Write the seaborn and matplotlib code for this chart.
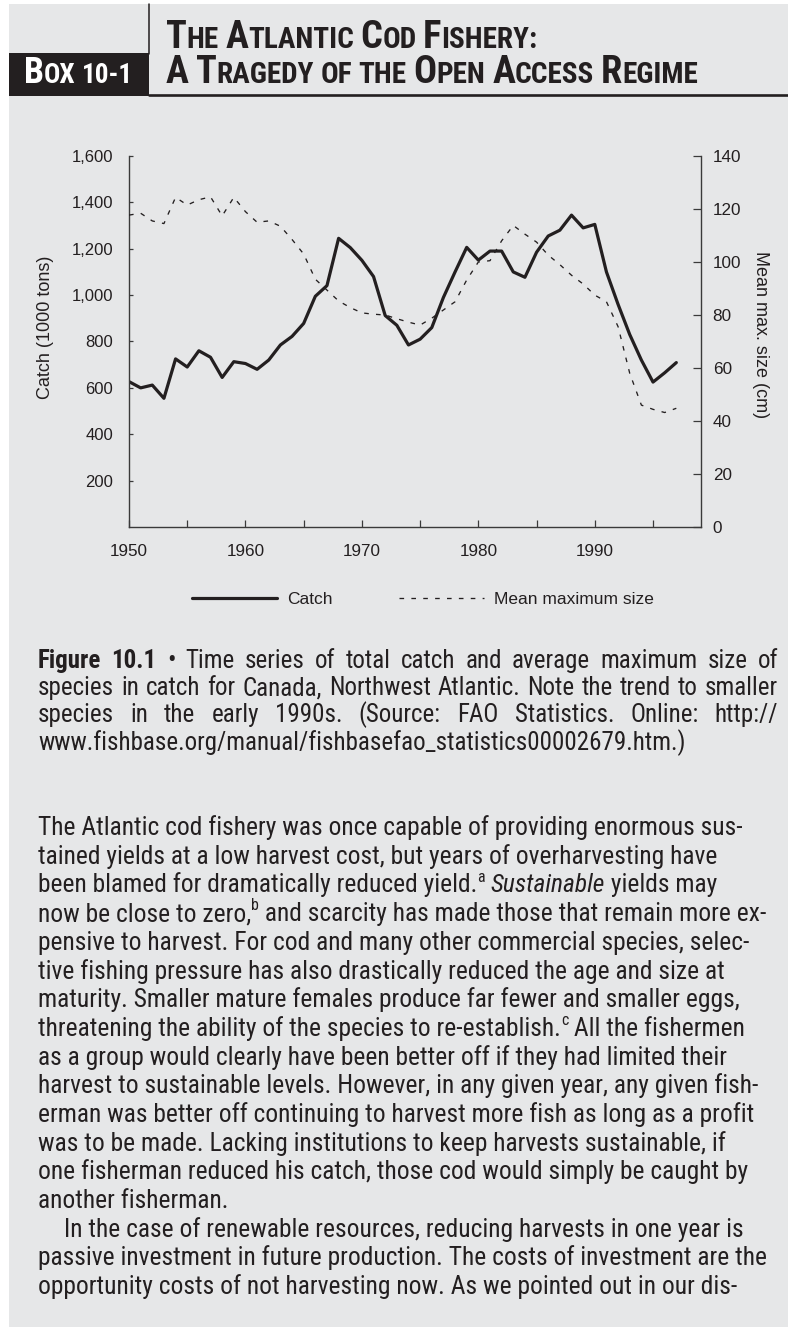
import re
import matplotlib.pyplot as plt
import seaborn as sns
from matplotlib import font_manager
from matplotlib.patches import Rectangle
from matplotlib.lines import Line2D

W, H = 788, 1332
INK = "#231f20"
AXIS = "#3a3a3a"
PAGE = "#e6e7e8"

# ── data ───────────────────────────────────────────────────────────────
years = list(range(1950, 1998))
catch = [627, 600, 612, 555, 725, 690, 760, 732, 645, 713,
         705, 680, 720, 785, 822, 878, 995, 1041, 1245, 1205,
         1150, 1080, 912, 870, 785, 810, 860, 990, 1100, 1206,
         1151, 1190, 1190, 1100, 1077, 1185, 1255, 1280, 1345, 1290,
         1305, 1100, 960, 830, 720, 625, 665, 709]
max_size = [117.7, 118.4, 115.5, 114.5, 124.4, 121.5, 123.5, 124.6, 117.4, 124.4,
            119.0, 115.0, 115.5, 113.5, 108.5, 103.0, 93.5, 89.4, 85.3, 82.8,
            80.8, 80.3, 80.0, 78.6, 77.3, 76.2, 78.8, 81.9, 85.0, 93.2,
            100.0, 100.5, 108.0, 113.8, 110.5, 107.5, 102.6, 99.0, 95.0, 91.7,
            87.5, 85.0, 75.6, 58.0, 46.0, 44.4, 43.2, 44.8]

xtick_years = [1950, 1955, 1960, 1965, 1970, 1975, 1980, 1985, 1990, 1995]
xtick_labels = ["1950", "", "1960", "", "1970", "", "1980", "", "1990", ""]
catch_ticks = [200, 400, 600, 800, 1000, 1200, 1400, 1600]
catch_labels = ["200", "400", "600", "800", "1,000", "1,200", "1,400", "1,600"]
size_ticks = [0, 20, 40, 60, 80, 100, 120, 140]
size_labels = ["0", "20", "40", "60", "80", "100", "120", "140"]
legend_labels = ["Catch", "Mean maximum size"]

box_label = "Box 10-1"
title_lines = ["The Atlantic Cod Fishery:", "A Tragedy of the Open Access Regime"]

caption_lines = [
    "Figure 10.1 \u2022 Time series of total catch and average maximum size of",
    "species in catch for Canada, Northwest Atlantic. Note the trend to smaller",
    "species in the early 1990s. (Source: FAO Statistics. Online: http://",
    "www.fishbase.org/manual/fishbasefao_statistics00002679.htm.)",
]

# ^x marks a footnote letter, *...* marks italics
body_lines = [
    "The Atlantic cod fishery was once capable of providing enormous sus-",
    "tained yields at a low harvest cost, but years of overharvesting have",
    "been blamed for dramatically reduced yield.^a *Sustainable* yields may",
    "now be close to zero,^b and scarcity has made those that remain more ex-",
    "pensive to harvest. For cod and many other commercial species, selec-",
    "tive fishing pressure has also drastically reduced the age and size at",
    "maturity. Smaller mature females produce far fewer and smaller eggs,",
    "threatening the ability of the species to re-establish.^c All the fishermen",
    "as a group would clearly have been better off if they had limited their",
    "harvest to sustainable levels. However, in any given year, any given fish-",
    "erman was better off continuing to harvest more fish as long as a profit",
    "was to be made. Lacking institutions to keep harvests sustainable, if",
    "one fisherman reduced his catch, those cod would simply be caught by",
    "another fisherman.",
    "In the case of renewable resources, reducing harvests in one year is",
    "passive investment in future production. The costs of investment are the",
    "opportunity costs of not harvesting now. As we pointed out in our dis-",
]


def fx(x):
    return x / W


def fy(y):
    return 1 - y / H


available = {f.name for f in font_manager.fontManager.ttflist}


def pick(*names):
    for n in names:
        if n in available:
            return n
    return "DejaVu Sans"


chart_font = pick("Liberation Sans", "Arial", "DejaVu Sans")
book_font = pick("Liberation Sans Narrow", "Noto Sans Condensed", "Roboto Condensed",
                 "Noto Sans", "Roboto")

sns.set_style("ticks")
plt.rcParams["font.family"] = [chart_font, "DejaVu Sans"]

fig = plt.figure(figsize=(W / 100, H / 100), dpi=100)
fig.patch.set_facecolor("white")
R = fig.canvas.get_renderer()

fig.add_artist(Rectangle((fx(9), fy(1327)), (W - 9) / W, (1327 - 4) / H,
                         transform=fig.transFigure, facecolor=PAGE,
                         edgecolor="none", zorder=-10))


def text_w(s, **kw):
    t = fig.text(0, 0, s, **kw)
    w = t.get_window_extent(R).width
    t.remove()
    return w


def adv(s, **kw):
    # advance width of s (bars keep leading/trailing spacing honest)
    return text_w("|" + s + "|", **kw) - text_w("||", **kw)


# ── header with small caps ────────────────────────────────────────────
def caps_runs(word):
    runs = []
    for ch in word:
        big = ch.isupper()
        if runs and runs[-1][1] == big:
            runs[-1][0] += ch.upper()
        else:
            runs.append([ch.upper(), big])
    return runs


def caps_layout(s, big, small):
    kw = dict(family=book_font, weight="bold")
    items, x = [], 0.0
    space = adv(" ", size=small, **kw)
    for i, word in enumerate(s.split(" ")):
        if i:
            x += space
        for run, is_big in caps_runs(word):
            sz = big if is_big else small
            items.append((run, sz, x))
            x += adv(run, size=sz, **kw)
    return items, x


def caps_draw(items, scale, x0, base, color):
    for run, sz, off in items:
        fig.text(fx(x0 + off * scale), fy(base), run, size=sz * scale,
                 family=book_font, weight="bold", color=color,
                 ha="left", va="baseline")


fig.add_artist(Rectangle((fx(9), fy(96)), 140 / W, 43 / H,
                         transform=fig.transFigure, facecolor=INK, edgecolor="none"))
fig.add_artist(Line2D([fx(149), fx(149)], [fy(4), fy(54)],
                      transform=fig.transFigure, color=INK, lw=1.1))
fig.add_artist(Line2D([fx(149), 1], [fy(94.5), fy(94.5)],
                      transform=fig.transFigure, color=INK, lw=1.9))

items2, w2 = caps_layout(title_lines[1], 19, 14.5)
k = 532 / w2
items1, _ = caps_layout(title_lines[0], 19, 14.5)
caps_draw(items1, k, 166, 48, INK)
caps_draw(items2, k, 166, 83, INK)
items_b, wb = caps_layout(box_label, 19, 14.5)
caps_draw(items_b, 109 / wb, 24, 83, "white")

# ── chart ─────────────────────────────────────────────────────────────
ax = fig.add_axes([fx(129), fy(527), 572 / W, 371 / H])
ax.set_facecolor("none")
sns.lineplot(x=years, y=catch, ax=ax, color=INK, linewidth=2.3, legend=False)
ax2 = ax.twinx()
sns.lineplot(x=years, y=max_size, ax=ax2, color=INK, linewidth=0.95,
             linestyle=(0, (3.5, 5.5)), legend=False)

ax.set_xlim(1950, 1999.12)
ax.set_ylim(0, 1600)
ax2.set_ylim(0, 140)

ax.set_xticks(xtick_years, xtick_labels)
ax.set_yticks(catch_ticks, catch_labels)
ax2.set_yticks(size_ticks, size_labels)
ax.set_xlabel("")
ax.set_ylabel("")
ax2.set_ylabel("")

ax.tick_params(axis="x", direction="in", length=4.8, width=0.9, pad=12.5,
               labelsize=12.3, color=AXIS, labelcolor=INK)
ax.tick_params(axis="y", direction="in", length=3.2, width=0.9, pad=11.5,
               labelsize=12, color=AXIS, labelcolor=INK)
ax2.tick_params(axis="y", direction="in", length=5.5, width=0.9, pad=8.4,
                labelsize=12.3, color=AXIS, labelcolor=INK)

for s in ["top", "right"]:
    ax.spines[s].set_visible(False)
for s in ["top", "left", "bottom"]:
    ax2.spines[s].set_visible(False)
for a in (ax, ax2):
    for sp in a.spines.values():
        sp.set_color(AXIS)
        sp.set_linewidth(1.0)

fig.text(fx(45.5), fy(327), "Catch (1000 tons)", rotation=90, size=13,
         color=INK, ha="center", va="center")
fig.text(fx(760), fy(334.5), "Mean max. size (cm)", rotation=270, size=13,
         color=INK, ha="center", va="center")

fig.legend([ax.lines[0], ax2.lines[0]], legend_labels, loc="center",
           bbox_to_anchor=(fx(423), fy(599)), ncol=2, frameon=False,
           handlelength=4.9, handletextpad=0.6, columnspacing=3.8,
           fontsize=12.5, labelcolor=INK)

# ── caption (justified) ───────────────────────────────────────────────
cap_kw = dict(family=book_font, color=INK)
ref = caption_lines[1].split(" ")
nat = sum(adv(w, size=14, **cap_kw) for w in ref) + adv(" ", size=14, **cap_kw) * (len(ref) - 1)
cap_size = 14 * 730 / nat

for i, line in enumerate(caption_lines):
    words = line.split(" ")
    bold_n = 2 if i == 0 else 0
    widths = [adv(w, size=cap_size, weight="bold" if j < bold_n else "normal", **cap_kw)
              for j, w in enumerate(words)]
    if i < 3:
        gap = (778 - 38 - sum(widths)) / (len(words) - 1)
    else:
        gap = adv(" ", size=cap_size, **cap_kw)
    x = 38
    base = 668 + 27.2 * i
    for j, (w, wd) in enumerate(zip(words, widths)):
        fig.text(fx(x), fy(base), w, size=cap_size,
                 weight="bold" if j < bold_n else "normal",
                 ha="left", va="baseline", **cap_kw)
        x += wd + gap


# ── body text (size chosen so the widest line ends near the margin) ───
def pieces(line, size):
    out = []
    for tok in re.split(r"(\^\w|\*[^*]+\*)", line):
        if not tok:
            continue
        if tok.startswith("^"):
            out.append((tok[1:], dict(size=size * 0.62), 0.42 * size * 100 / 72))
        elif tok.startswith("*"):
            out.append((tok[1:-1], dict(size=size, style="italic"), 0.0))
        else:
            out.append((tok, dict(size=size), 0.0))
    return out


def line_width(line, size):
    return sum(adv(t, family=book_font, **kw) for t, kw, _ in pieces(line, size))


widest = max(line_width(line, 14) + (26 if i == 14 else 0)
             for i, line in enumerate(body_lines))
body_size = 14 * 734 / widest
for i, line in enumerate(body_lines):
    x = 64 if i == 14 else 38
    base = 835 + 28.7 * i
    for t, kw, rise in pieces(line, body_size):
        fig.text(fx(x), fy(base - rise), t, family=book_font, color=INK,
                 ha="left", va="baseline", **kw)
        x += adv(t, family=book_font, **kw)

fig.savefig("out.png", dpi=100, facecolor=fig.get_facecolor())
